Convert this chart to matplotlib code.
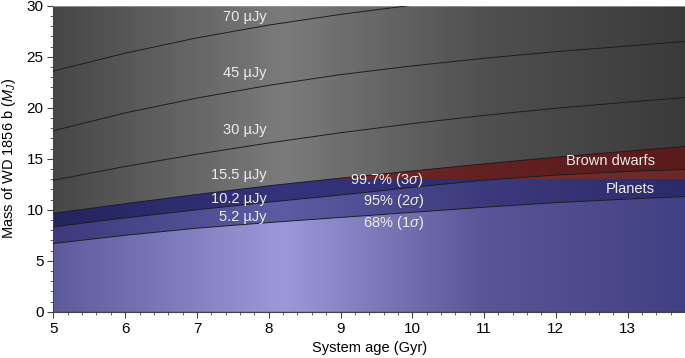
import numpy as np
import matplotlib
matplotlib.use("Agg")
import matplotlib.pyplot as plt
from matplotlib.colors import LinearSegmentedColormap
from matplotlib.ticker import MultipleLocator

plt.rcParams['font.family'] = ['Liberation Sans', 'DejaVu Sans']
plt.rcParams['mathtext.fontset'] = 'custom'
plt.rcParams['mathtext.rm'] = 'Liberation Sans'
plt.rcParams['mathtext.it'] = 'Liberation Sans:italic'

# ages (Gyr) where the curves were read
ages = [5, 6, 7, 8, 9, 10, 11, 12, 13, 13.8]
# mass (M_J) along each flux contour
flux_70 = [23.6, 25.35, 26.85, 28.1, 29.15, 30.05, 30.85, 31.5, 32.1, 32.5]
flux_45 = [17.75, 19.5, 20.95, 22.2, 23.25, 24.1, 24.85, 25.5, 26.05, 26.5]
flux_30 = [12.9, 14.25, 15.45, 16.55, 17.55, 18.45, 19.25, 19.95, 20.55, 21.0]
flux_15_5 = [9.65, 10.6, 11.5, 12.35, 13.1, 13.8, 14.5, 15.15, 15.75, 16.2]
flux_10_2 = [8.33, 9.2, 10.0, 10.75, 11.45, 12.2, 12.9, 13.4, 13.75, 13.95]
flux_5_2 = [6.7, 7.5, 8.2, 8.75, 9.25, 9.75, 10.25, 10.7, 11.05, 11.3]
deuterium_limit = 13.0

contours = [flux_70, flux_45, flux_30, flux_15_5, flux_10_2, flux_5_2]
contour_labels = ['70 µJy', '45 µJy', '30 µJy', '15.5 µJy', '10.2 µJy', '5.2 µJy']
label_y = [28.9, 23.4, 17.8, 13.4, 11.1, 9.3]
sigma_labels = ['99.7% (3$\\sigma$)', '95% (2$\\sigma$)', '68% (1$\\sigma$)']
sigma_y = [12.9, 10.9, 8.7]

x = np.array(ages)
xmin, xmax = 5, 13.8

fig = plt.figure(figsize=(6.85, 3.58), dpi=100)
ax = fig.add_axes([0.078, 0.129, 0.922, 0.855])
ax.set_xlim(xmin, xmax)
ax.set_ylim(0, 30)

# horizontal shading stops (fraction of x range)
stops = [0.0, 0.364, 0.682, 1.0]
def shade(cols):
    return LinearSegmentedColormap.from_list('s', list(zip(stops, cols)))

grad = np.linspace(0, 1, 400).reshape(1, -1)

def layer(cols, clip=None):
    im = ax.imshow(grad, cmap=shade(cols), extent=[xmin, xmax, 0, 30],
                   aspect='auto', interpolation='bilinear', origin='lower', zorder=1)
    if clip is not None:
        im.set_clip_path(clip, ax.transData)
    return im

def region(lo, hi, **kw):
    poly = ax.fill_between(x, lo, hi, **kw)
    path = poly.get_paths()[0]
    poly.remove()
    return path

l155 = np.array(flux_15_5)
l102 = np.array(flux_10_2)
l52 = np.array(flux_5_2)

# gray background
layer(['#474747', '#7b7b7b', '#505050', '#3a3a3a'])
# 99.7%
layer(['#25245f', '#34337c', '#2e2d70', '#2a296a'], region(0, l155))
layer(['#7a2c2c', '#7a2c2c', '#632121', '#5a1b1b'],
      region(deuterium_limit, l155, where=l155 >= deuterium_limit, interpolate=True))
# 95%
layer(['#3d3b7d', '#5d5ba3', '#3c3a7c', '#2b2a6b'], region(0, l102))
layer(['#733232', '#733232', '#703030', '#6b2a2a'],
      region(deuterium_limit, l102, where=l102 >= deuterium_limit, interpolate=True))
# 68%
layer(['#5d5b9b', '#9b99d9', '#585697', '#424084'], region(0, l52))

for c in contours:
    ax.plot(x, c, color='#1e1e1e', lw=0.7, zorder=3)

txt = dict(color='#ececec', fontsize=10.5, ha='right', va='center', zorder=4)
for lab, yy in zip(contour_labels, label_y):
    ax.text(7.97, yy, lab, **txt)
for lab, yy in zip(sigma_labels, sigma_y):
    ax.text(10.16, yy, lab, **txt)
ax.text(13.38, 14.8, 'Brown dwarfs', **txt)
ax.text(13.38, 12.0, 'Planets', **txt)

ax.xaxis.set_major_locator(MultipleLocator(1))
ax.xaxis.set_minor_locator(MultipleLocator(0.2))
ax.yaxis.set_major_locator(MultipleLocator(5))
ax.yaxis.set_minor_locator(MultipleLocator(1))
ax.tick_params(which='major', direction='out', length=4, width=0.8, color='#444444',
               labelsize=11, pad=3)
ax.tick_params(which='minor', direction='out', length=2, width=0.6, color='#444444')

ax.spines['right'].set_visible(False)
ax.spines['top'].set_color('#999999')
ax.spines['top'].set_linewidth(0.6)
for s in ['left', 'bottom']:
    ax.spines[s].set_color('#444444')
    ax.spines[s].set_linewidth(0.8)

ax.set_xlabel('System age (Gyr)', fontsize=10.5, labelpad=4)
ax.set_ylabel('Mass of WD 1856 b ($M_J$)', fontsize=10.5, labelpad=6)

fig.savefig('out.png', dpi=100)
